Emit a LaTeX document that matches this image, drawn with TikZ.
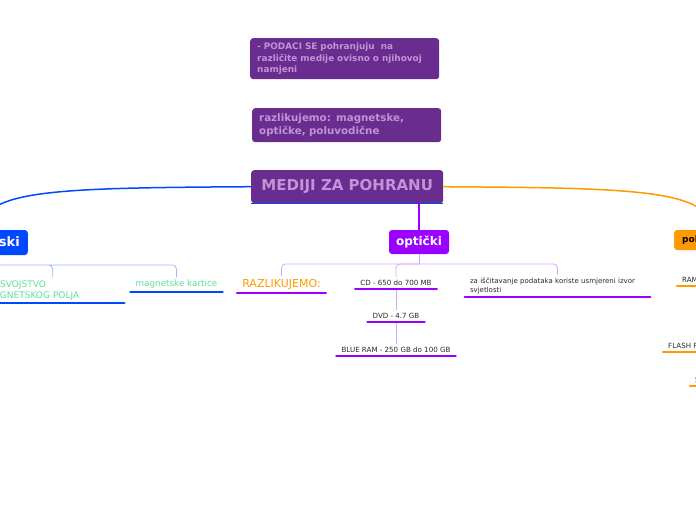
\documentclass[tikz,border=0pt]{standalone}
\usepackage{fontspec}
\setmainfont{DejaVu Sans}

\begin{document}
\begin{tikzpicture}[x=1pt,y=-1pt]

  % Colours of the map (one per branch)
  \definecolor{cBox}{RGB}{104,45,143}     % purple boxes
  \definecolor{cBoxTxt}{RGB}{196,146,214}
  \definecolor{cMag}{RGB}{0,72,255}       % blue
  \definecolor{cOpt}{RGB}{153,0,255}      % violet
  \definecolor{cPol}{RGB}{255,153,0}      % orange
  \definecolor{cMagLt}{RGB}{160,182,255}
  \definecolor{cOptLt}{RGB}{214,166,255}
  \definecolor{cGreen}{RGB}{90,225,150}
  \definecolor{cLeaf}{RGB}{40,40,40}

  \tikzset{
    topbox/.style={fill=cBox, rounded corners=3pt, text=cBoxTxt, anchor=north west,
      align=left, inner xsep=7pt, inner ysep=3pt},
    branch/.style={rounded corners=3pt, inner sep=0pt, font=\bfseries},
    leaf/.style={anchor=south, inner xsep=5pt, inner ysep=3pt, text=cLeaf,
      font=\fontsize{7.1}{9}\selectfont},
    ul/.style={line width=2.6pt, line cap=round},
    link/.style={line width=1.5pt},
    twig/.style={line width=0.8pt}
  }

  \useasboundingbox (0,0) rectangle (696,520);

  % ---- Centre and the two notes above it ----
  \node[topbox, minimum width=189pt, minimum height=41pt, text width=175pt,
    font=\fontsize{8.9}{11.5}\selectfont\bfseries] (note1) at (250,38)
    {- PODACI SE pohranjuju\ \ na\\ različite medije ovisno o njihovoj\\ namjeni};
  \node[topbox, minimum width=189pt, minimum height=34pt, text width=175pt,
    font=\fontsize{10.3}{13}\selectfont\bfseries] (note2) at (252,108)
    {razlikujemo: magnetske,\\ optičke, poluvodične};
  \node[topbox, minimum width=192pt, minimum height=33pt, align=center,
    font=\fontsize{15}{17}\selectfont\bfseries] (main) at (251,170)
    {MEDIJI ZA POHRANU};
  \draw[cMag, line width=1.5pt] (main.south west) -- (main.south east);

  % ---- The three branches ----
  \node[branch, fill=cMag, text=white, anchor=east, minimum height=25pt,
    inner xsep=8pt, font=\fontsize{13}{15}\selectfont\bfseries] (mag) at (28,242.5) {magnetski};
  \node[branch, fill=cOpt, text=white, minimum height=24pt, minimum width=60pt,
    font=\fontsize{12}{14}\selectfont\bfseries] (opt) at (419,242) {optički};
  \node[branch, fill=cPol, text=black, anchor=west, minimum height=20pt,
    inner xsep=8pt, font=\fontsize{9}{11}\selectfont\bfseries] (pol) at (674,240) {poluvodički};

  \draw[link, cMag] (main.west) .. controls (60,188) and (mag.north |- 0,189) .. (mag.north);
  \draw[link, cPol] (main.east) .. controls (630,188) and (pol.north |- 0,189) .. (pol.north);
  \draw[link, cOpt] (main.south -| opt.north) -- (opt.north);

  % ---- magnetski ----
  \node[leaf, anchor=south west, text=cGreen, text width=133pt, align=left,
    font=\fontsize{9}{11}\selectfont] (magA) at (-19,303)
    {\phantom{MA}SVOJSTVO\\MAGNETSKOG POLJA};
  \node[leaf, text=cGreen, font=\fontsize{8.8}{10}\selectfont] (magK) at (176.5,292)
    {magnetske kartice};

  \coordinate (magBar) at (mag.south |- 0,265);
  \draw[twig, cMagLt] (mag.south) -- (magBar);
  \draw[twig, cMagLt, rounded corners=4pt] (magA.north) |- (magBar) -| (magK.north);

  % ---- optički ----
  \node[leaf, text=cPol, font=\fontsize{11}{12}\selectfont] (raz) at (281.5,293) {RAZLIKUJEMO:};
  \node[leaf] (cd) at (396,289) {CD - 650 do 700 MB};
  \node[leaf] (dvd) at (396,322) {DVD - 4.7 GB};
  \node[leaf] (blue) at (396,356) {BLUE RAM - 250 GB do 100 GB};
  \node[leaf, text width=175pt, align=left, font=\fontsize{7}{9}\selectfont] (izvor) at (557.5,297)
    {za iščitavanje podataka koriste usmjereni izvor\\ svjetlosti};

  \coordinate (optBar) at (opt.south |- 0,264);
  \draw[twig, cOptLt] (opt.south) -- (optBar);
  \draw[twig, cOptLt, rounded corners=4pt] (raz.north) |- (optBar) -| (izvor.north);
  \draw[twig, cOptLt, rounded corners=4pt] (cd.north) |- (optBar);
  \draw[twig, cOptLt] (cd.south) -- (dvd.north);
  \draw[twig, cOptLt] (dvd.south) -- (blue.north);

  % ---- poluvodički ----
  \node[leaf, anchor=south west] (ram) at (677,286) {RAM};
  \node[leaf, anchor=south west] (flash) at (663,352) {FLASH F};
  \node[leaf, anchor=south west] (ssd) at (690,386) {S\hspace{6pt}};

  % underlines of all leaves
  \foreach \n/\c in {magA/cMag,magK/cMag,raz/cOpt,cd/cOpt,dvd/cOpt,blue/cOpt,izvor/cOpt,ram/cPol,flash/cPol,ssd/cPol}
    \draw[ul, \c] (\n.south west) -- (\n.south east);

\end{tikzpicture}
\end{document}
